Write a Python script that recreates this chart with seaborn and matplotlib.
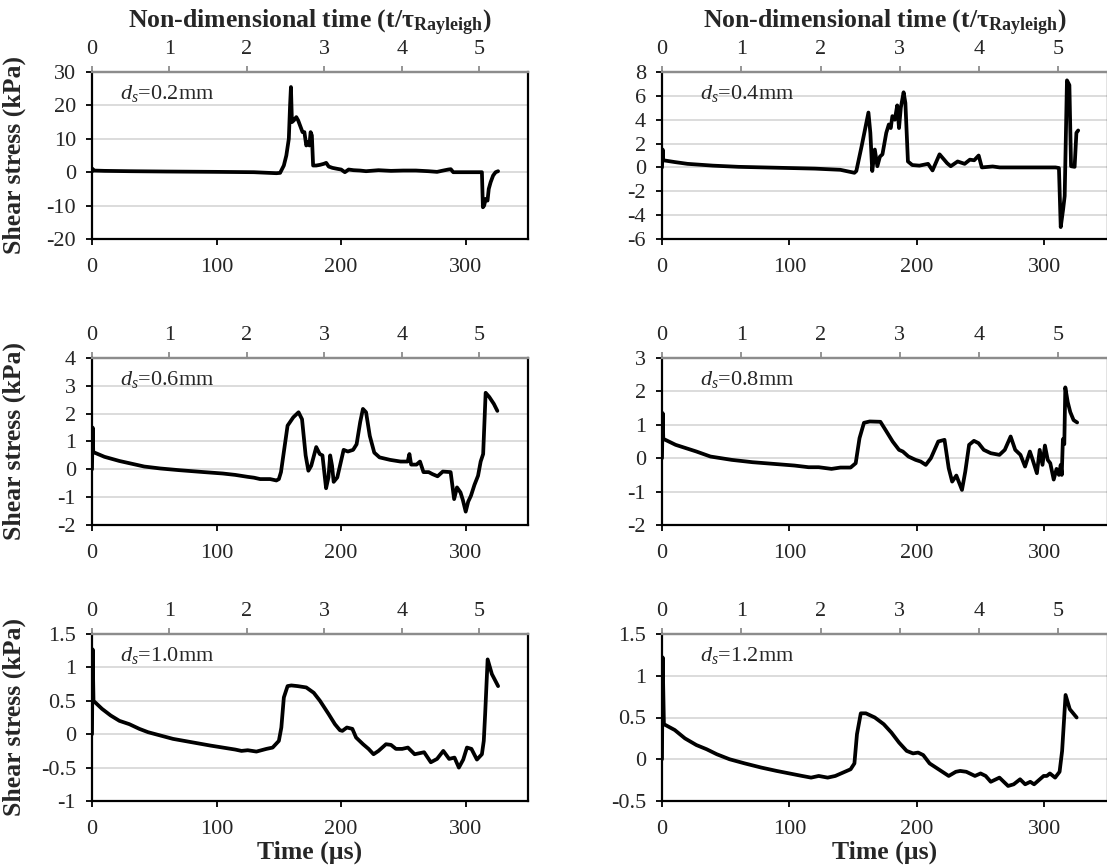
import numpy as np
import pandas as pd
import seaborn as sns
import matplotlib.pyplot as plt
from matplotlib.ticker import FuncFormatter

# ---- data (time in microseconds, shear stress in kPa) ----
TAU = 62.2  # Rayleigh collapse time, us

t_02 = [0, 0.5, 1, 10, 30, 60, 100, 130, 148, 151, 154, 156, 158, 159, 159.7, 160.5, 162, 164, 165.5, 167,
        169, 170.5, 172, 173.5, 174.5, 175.5, 176.5, 177.5, 180, 183, 186, 188, 190, 193, 197, 200, 203, 206,
        210, 215, 220, 230, 240, 250, 260, 270, 277, 282, 286, 288, 290, 300, 313, 313.8, 314.8, 316, 317.5,
        318.5, 320, 322, 324, 326]
s_02 = [0.3, 1.0, 0.5, 0.4, 0.3, 0.2, 0.1, 0.0, -0.3, -0.2, 2, 5, 10, 20, 25.5, 15, 15.5, 16.5, 15.5, 14,
        12, 12, 8, 9, 8, 12, 11, 2, 2, 2.2, 2.5, 2.8, 1.7, 1.3, 1.0, 0.8, 0, 0.8,
        0.6, 0.5, 0.3, 0.6, 0.4, 0.5, 0.5, 0.3, 0.1, 0.5, 0.8, 0.9, 0, 0, 0, -10.5, -10, -8, -8.5,
        -5, -3, -1, 0, 0.3]

t_04 = [0, 0.5, 1, 10, 20, 40, 60, 80, 100, 120, 140, 151, 152.5, 156.7, 162, 163.5, 165, 167, 169, 171,
        173, 176, 178, 179.5, 180.8, 182.7, 184.6, 186, 187.4, 189.6, 191, 193, 196.4, 202, 208.8, 212.3,
        217.8, 223.8, 226.6, 232, 237.5, 241.6, 245, 248.5, 251, 259.5, 265, 308.8, 311.5, 312.9, 314.8,
        316, 317.8, 319.7, 321, 323.8, 325.2, 326.6]
s_04 = [0, 1.5, 0.6, 0.45, 0.3, 0.15, 0.05, 0, -0.05, -0.1, -0.2, -0.45, -0.3, 1.8, 4.6, 2.9, -0.3, 1.5, 0.1, 0.9,
        1.1, 2.9, 3.6, 3.3, 4.3, 4.0, 5.2, 3.3, 5.0, 6.3, 5.4, 0.5, 0.2, 0.15, 0.3, -0.25,
        1.1, 0.35, 0.1, 0.5, 0.3, 0.65, 0.6, 1.0, 0, 0.08, 0, 0, -0.05, -5, -3.5,
        -2.4, 7.3, 6.9, 0.1, 0.05, 2.9, 3.1]

t_06 = [0, 0.5, 1, 10, 22, 32, 42, 55, 70, 90, 105, 115, 125, 130, 135, 143, 148, 150, 151.7, 157,
        161.6, 165.8, 168.6, 171.5, 173.7, 176, 180, 182.8, 185, 187.9, 189.8, 191.2, 192.7, 194, 196.9,
        202, 205.4, 209.6, 212.4, 215.3, 217.5, 220, 223, 226.6, 230.8, 239.3, 247.7, 253.4, 254.8, 256.2,
        260.5, 263.3, 266.1, 270.3, 273.2, 277.4, 281.6, 287.9, 290.7, 293, 295.8, 297.7, 300, 302, 304.2,
        307, 309.9, 312, 314, 316, 318.9, 322.6, 325.4]
s_06 = [0, 1.5, 0.62, 0.45, 0.3, 0.2, 0.1, 0.03, -0.03, -0.1, -0.15, -0.2, -0.27, -0.3, -0.35, -0.35, -0.4, -0.35, -0.1, 1.57,
        1.87, 2.05, 1.8, 0.5, -0.05, 0.13, 0.8, 0.55, 0.5, -0.68, -0.29, 0.5, 0.13, -0.45, -0.29,
        0.7, 0.64, 0.7, 0.9, 1.7, 2.17, 2.05, 1.2, 0.6, 0.43, 0.34, 0.28, 0.28, 0.55, 0.17,
        0.17, 0.28, -0.1, -0.1, -0.17, -0.25, -0.08, -0.1, -1.07, -0.65, -0.83, -1.1, -1.52, -1.16, -0.95,
        -0.56, -0.23, 0.28, 0.55, 2.75, 2.6, 2.35, 2.1]

t_08 = [0, 0.5, 1, 10.7, 27, 38, 54.7, 71, 87.6, 104, 115, 123, 133, 140, 148, 152, 155, 158.5, 163, 171.4,
        175.5, 181, 186, 189, 193.4, 199, 203, 207, 211, 216.8, 221.7, 225, 227.7, 231, 235.4, 238, 241,
        244.8, 248.4, 252.5, 258, 264.8, 269, 273.6, 277.2, 281.3, 284.9, 288.7, 290.9, 294.2, 296.4,
        298.6, 300.5, 302.7, 304.7, 307.4, 309.6, 311.5, 312.9, 313.7, 314.6, 315.7, 316.5, 318.4, 320.4,
        323, 325.8]
s_08 = [0, 1.35, 0.58, 0.4, 0.2, 0.05, -0.05, -0.12, -0.17, -0.22, -0.27, -0.27, -0.32, -0.28, -0.28, -0.15, 0.6, 1.06, 1.1, 1.09,
        0.84, 0.5, 0.25, 0.2, 0.05, -0.05, -0.1, -0.2, 0, 0.5, 0.55, -0.3, -0.7, -0.52, -0.95, -0.4, 0.4,
        0.52, 0.45, 0.25, 0.15, 0.1, 0.25, 0.65, 0.25, 0.1, -0.25, 0.2, -0.05, -0.45, 0.25,
        -0.2, 0.38, -0.05, -0.15, -0.64, -0.32, -0.5, -0.2, -0.5, 0.57, 0.42, 2.12, 1.68, 1.38,
        1.14, 1.07]

t_10 = [0, 0.5, 1.2, 8, 15, 22, 30, 38, 45, 55, 65, 80, 95, 105, 115, 120, 125, 132, 140, 145,
        150, 152, 154, 157, 160, 165, 172, 178, 183, 190, 195, 199, 201, 204.6, 209, 212, 217.6, 222,
        226, 230, 236, 240, 244, 249, 253.6, 259, 266.6, 272, 277, 282, 286.7, 291, 294.5, 298, 301,
        304.6, 309, 313, 314.5, 315.6, 317.6, 321, 326]
s_10 = [0, 1.27, 0.5, 0.38, 0.28, 0.2, 0.15, 0.08, 0.03, -0.02, -0.07, -0.12, -0.17, -0.2, -0.23, -0.25, -0.24, -0.26, -0.22, -0.2,
        -0.1, 0.1, 0.55, 0.72, 0.73, 0.72, 0.7, 0.62, 0.5, 0.3, 0.15, 0.06, 0.05, 0.1, 0.08, -0.05, -0.15, -0.22,
        -0.3, -0.25, -0.15, -0.16, -0.22, -0.22, -0.2, -0.3, -0.27, -0.42, -0.37, -0.25, -0.37, -0.35, -0.5, -0.38, -0.2,
        -0.22, -0.38, -0.3, -0.1, 0.3, 1.12, 0.9, 0.72]

t_12 = [0, 0.5, 1.5, 10, 18, 27, 35, 43, 53, 65, 78, 90, 100, 110, 117, 123, 130, 136, 142, 148,
        151, 153, 156, 160, 167, 174, 180, 186, 192, 197, 201, 205, 210, 215, 220, 225, 230.6, 234,
        238.8, 245.6, 250, 254, 258, 264.8, 271.6, 276, 281, 285, 289, 292, 299.5, 302, 304.4, 308.5,
        312, 314, 316.7, 320, 325.4]
s_12 = [0, 1.22, 0.42, 0.35, 0.25, 0.17, 0.12, 0.06, 0.0, -0.05, -0.1, -0.14, -0.17, -0.2, -0.22, -0.2, -0.22, -0.2, -0.16, -0.12,
        -0.05, 0.3, 0.55, 0.55, 0.5, 0.42, 0.32, 0.2, 0.1, 0.07, 0.08, 0.05, -0.05, -0.1, -0.15, -0.2, -0.15, -0.14,
        -0.15, -0.2, -0.17, -0.2, -0.27, -0.22, -0.32, -0.3, -0.24, -0.3, -0.27, -0.3, -0.2, -0.2, -0.17, -0.22,
        -0.15, 0.1, 0.77, 0.6, 0.5]

labels = ["0.2", "0.4", "0.6", "0.8", "1.0", "1.2"]
times = [t_02, t_04, t_06, t_08, t_10, t_12]
stresses = [s_02, s_04, s_06, s_08, s_10, s_12]
ylims = [(-20, 30), (-6, 8), (-2, 4), (-2, 3), (-1, 1.5), (-0.5, 1.5)]
ysteps = [10, 2, 1, 1, 0.5, 0.5]

# ---- style ----
sns.set_theme(style="white")
plt.rcParams["font.family"] = ["Liberation Serif", "DejaVu Serif"]
plt.rcParams["mathtext.fontset"] = "custom"
plt.rcParams["mathtext.rm"] = "Liberation Serif"
plt.rcParams["mathtext.it"] = "Liberation Serif:italic"
plt.rcParams["mathtext.bf"] = "Liberation Serif:bold"
plt.rcParams["axes.unicode_minus"] = False

W, H = 1107, 866
fig = plt.figure(figsize=(W / 100, H / 100), dpi=100)

col_x = [(92, 528), (662, 1108)]
row_y = [(72, 239), (358, 525), (634, 801)]

TICK_FS = 16
LABEL_FS = 18.5
grid_c = "#d9d9d9"
top_c = "#8c8c8c"

for i in range(6):
    r, c = divmod(i, 2)
    x0, x1 = col_x[c]
    y0, y1 = row_y[r]
    ax = fig.add_axes([x0 / W, 1 - y1 / H, (x1 - x0) / W, (y1 - y0) / H])

    df = pd.DataFrame({"t": times[i], "s": stresses[i]})
    sns.lineplot(data=df, x="t", y="s", ax=ax, color="black", linewidth=2.7,
                 sort=False, estimator=None)

    lo, hi = ylims[i]
    ax.set_xlim(0, 350)
    ax.set_ylim(lo, hi)
    ax.set_xticks([0, 100, 200, 300])
    ax.set_yticks(np.arange(lo, hi + 1e-9, ysteps[i]))
    ax.yaxis.set_major_formatter(FuncFormatter(lambda v, p: f"{v:g}"))
    ax.grid(axis="y", color=grid_c, linewidth=1.3)
    ax.set_axisbelow(True)

    for side in ["left", "bottom", "right"]:
        ax.spines[side].set_color("black")
        ax.spines[side].set_linewidth(1.6)
    ax.spines["top"].set_color(top_c)
    ax.spines["top"].set_linewidth(1.6)

    ax.tick_params(axis="both", which="major", direction="out", length=4.5, width=1.3,
                   color="black", labelsize=TICK_FS, bottom=True, left=True)
    ax.tick_params(axis="x", pad=9)
    ax.tick_params(axis="y", pad=7)
    ax.set_xlabel("")
    ax.set_ylabel("")

    sec = ax.secondary_xaxis("top", functions=(lambda t: t / TAU, lambda n: n * TAU))
    sec.set_xticks([0, 1, 2, 3, 4, 5])
    sec.tick_params(direction="out", length=4.5, width=1.3, color=top_c,
                    labelsize=TICK_FS, pad=5)
    sec.spines["top"].set_color(top_c)
    sec.spines["top"].set_linewidth(1.6)

    ax.text(0.065 if c == 0 else 0.085, 0.87, f"$d_s$={labels[i]}mm",
            transform=ax.transAxes, fontsize=TICK_FS, va="center", ha="left")

    if r == 0:
        sec.set_xlabel(r"Non-dimensional time (t/τ$_{\mathbf{Rayleigh}}$)",
                       fontsize=LABEL_FS, fontweight="bold", labelpad=8)
    if c == 0:
        ax.set_ylabel("Shear stress (kPa)", fontsize=LABEL_FS, fontweight="bold")
        ax.yaxis.set_label_coords(-0.152, 0.5)
    if r == 2:
        ax.set_xlabel("Time (µs)", fontsize=LABEL_FS, fontweight="bold", labelpad=1)

fig.savefig("out.png", dpi=100)
plt.close(fig)
